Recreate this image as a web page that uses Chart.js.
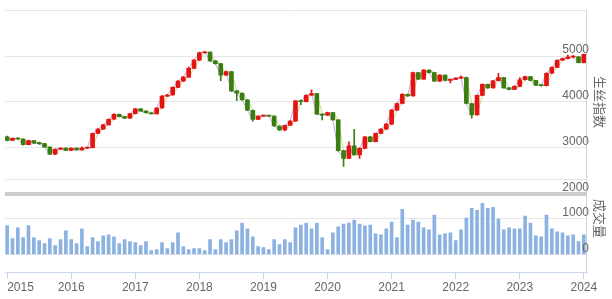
<!DOCTYPE html>
<html lang="zh">
<head>
    <meta charset="UTF-8">
    <title>生丝指数</title>
    <script src="https://cdn.jsdelivr.net/npm/chart.js"></script>
    <style>
        body {
            margin: 0;
            padding: 0;
            background-color: #ffffff;
        }

        .chart-box {
            position: relative;
            width: 612px;
            height: 299px;
        }
    </style>
</head>
<body>
    <div class="chart-box">
        <canvas id="silkChart"></canvas>
    </div>

    <script>
        // monthly data, Jan 2015 .. Jan 2024
        const yearLabels = ['2015', '2016', '2017', '2018', '2019', '2020', '2021', '2022', '2023', '2024'];
        const priceTicks = [2000, 3000, 4000, 5000];
        const volumeTicks = [0, 1000];
        const priceTitle = '生丝指数';
        const volumeTitle = '成交量';

        const opens = [
            3240, 3160, 3207, 3190, 3064, 3157, 3100, 3090, 3014, 2857,
            2967, 2990, 2940, 2990, 2950, 2990, 3000, 3314, 3407, 3500,
            3621, 3729, 3679, 3643, 3743, 3850, 3800, 3762, 3740, 3866,
            4125, 4150, 4316, 4452, 4540, 4732, 4912, 5071, 5086, 4893,
            4834, 4583, 4660, 4239, 4189, 4045, 3817, 3615, 3688, 3701,
            3690, 3473, 3387, 3486, 3580, 4022, 4005, 4145, 4181, 3732,
            3710, 3768, 3609, 2935, 2768, 3043, 2841, 2986, 3239, 3130,
            3312, 3406, 3514, 3819, 3964, 4167, 4130, 4638, 4493, 4696,
            4638, 4452, 4585, 4468, 4490, 4518, 4532, 3965, 3716, 4142,
            4383, 4305, 4461, 4532, 4305, 4270, 4340, 4482, 4553, 4468,
            4362, 4355, 4624, 4752, 4908, 4943, 4979, 4985, 4858
        ];
        const closes = [
            3160, 3207, 3190, 3064, 3157, 3100, 3090, 3014, 2857, 2967,
            2990, 2940, 2990, 2950, 2990, 3000, 3314, 3407, 3500, 3621,
            3729, 3679, 3643, 3743, 3850, 3800, 3762, 3740, 3866, 4125,
            4150, 4316, 4452, 4540, 4732, 4912, 5071, 5086, 4893, 4834,
            4583, 4660, 4239, 4189, 4045, 3817, 3615, 3688, 3701, 3690,
            3473, 3387, 3486, 3580, 4022, 4005, 4145, 4181, 3732, 3710,
            3768, 3609, 2935, 2768, 3043, 2841, 2986, 3239, 3130, 3312,
            3406, 3514, 3819, 3964, 4167, 4130, 4638, 4493, 4696, 4638,
            4452, 4585, 4468, 4490, 4518, 4532, 3965, 3716, 4142, 4383,
            4305, 4461, 4532, 4305, 4270, 4340, 4482, 4553, 4468, 4362,
            4355, 4624, 4752, 4908, 4943, 4979, 4985, 4858, 5035
        ];
        const highs = [
            3255, 3215, 3220, 3195, 3165, 3160, 3125, 3095, 3020, 2975,
            3000, 2995, 2995, 2995, 3020, 3010, 3320, 3420, 3510, 3630,
            3745, 3735, 3685, 3750, 3860, 3855, 3805, 3765, 3875, 4135,
            4165, 4330, 4465, 4560, 4760, 4925, 5085, 5095, 5090, 4900,
            4840, 4670, 4665, 4245, 4195, 4050, 3820, 3695, 3712, 3708,
            3695, 3480, 3495, 3590, 4030, 4045, 4155, 4261, 4185, 3738,
            3775, 3772, 3615, 2940, 3130, 3400, 2995, 3245, 3245, 3320,
            3415, 3525, 3830, 3975, 4180, 4172, 4650, 4645, 4705, 4700,
            4645, 4595, 4590, 4500, 4525, 4567, 4540, 3970, 4150, 4395,
            4390, 4470, 4624, 4538, 4310, 4350, 4530, 4565, 4558, 4472,
            4370, 4635, 4762, 4920, 4955, 5020, 5010, 4990, 5045
        ];
        const lows = [
            3150, 3155, 3180, 3055, 3060, 3095, 3070, 3005, 2850, 2850,
            2960, 2935, 2935, 2945, 2945, 2985, 2995, 3310, 3400, 3495,
            3615, 3670, 3635, 3640, 3740, 3795, 3755, 3735, 3735, 3860,
            4120, 4145, 4310, 4445, 4535, 4725, 4905, 5065, 4885, 4825,
            4462, 4575, 4230, 4024, 4035, 3810, 3580, 3610, 3682, 3684,
            3465, 3380, 3365, 3480, 3575, 3940, 4000, 4140, 3725, 3609,
            3705, 3600, 2925, 2592, 2760, 2835, 2768, 2980, 3125, 3125,
            3305, 3400, 3510, 3812, 3958, 4120, 4125, 4485, 4488, 4630,
            4445, 4445, 4460, 4411, 4485, 4512, 3958, 3645, 3710, 4135,
            4295, 4300, 4455, 4298, 4262, 4265, 4335, 4475, 4460, 4355,
            4345, 4350, 4618, 4745, 4900, 4938, 4960, 4850, 4850
        ];
        const volumes = [
            800, 436, 736, 464, 800, 464, 382, 300, 436, 245,
            409, 655, 409, 300, 709, 218, 464, 355, 518, 545,
            491, 300, 409, 355, 327, 245, 355, 109, 136, 327,
            164, 327, 600, 218, 136, 164, 164, 109, 409, 136,
            409, 327, 409, 655, 873, 709, 491, 218, 191, 136,
            409, 273, 409, 327, 736, 818, 873, 709, 873, 464,
            136, 600, 764, 845, 873, 955, 845, 791, 818, 573,
            545, 709, 900, 464, 1255, 818, 955, 900, 736, 682,
            1091, 545, 573, 600, 382, 682, 1009, 1282, 1227, 1418,
            1282, 1309, 982, 682, 736, 709, 709, 1064, 873, 518,
            491, 1091, 709, 627, 600, 518, 545, 355, 545
        ];

        const upColor = '#e61410';
        const downColor = '#3a7d10';
        const tickFont = { family: "'Liberation Sans', Arial, sans-serif", size: 12 };
        const candleColor = (ctx) => closes[ctx.dataIndex] >= opens[ctx.dataIndex] ? upColor : downColor;

        const sideTitles = {
            id: 'sideTitles',
            afterDraw(chart) {
                const { ctx, chartArea, scales } = chart;
                const items = [
                    { text: priceTitle, y: scales.yPrice.getPixelForValue(4000) },
                    { text: volumeTitle, y: scales.yVol.getPixelForValue(1000) }
                ];
                ctx.save();
                ctx.font = "13px 'Noto Sans CJK SC'";
                ctx.fillStyle = '#666666';
                ctx.textAlign = 'center';
                ctx.textBaseline = 'middle';
                items.forEach(item => {
                    ctx.save();
                    ctx.translate(chartArea.right + 14, item.y);
                    ctx.rotate(Math.PI / 2);
                    ctx.fillText(item.text, 0, 0);
                    ctx.restore();
                });
                ctx.restore();
            }
        };

        const ctx = document.getElementById('silkChart').getContext('2d');
        new Chart(ctx, {
            data: {
                datasets: [
                    {
                        type: 'bar',
                        yAxisID: 'yPrice',
                        data: opens.map((o, i) => ({ x: i, y: [o, closes[i]] })),
                        backgroundColor: candleColor,
                        barThickness: 4,
                        minBarLength: 1,
                        grouped: false,
                        order: 0
                    },
                    {
                        type: 'bar',
                        yAxisID: 'yPrice',
                        data: lows.map((l, i) => ({ x: i, y: [l, highs[i]] })),
                        backgroundColor: candleColor,
                        barThickness: 1,
                        grouped: false,
                        order: 1
                    },
                    {
                        type: 'line',
                        yAxisID: 'yPrice',
                        data: closes.map((c, i) => ({ x: i, y: c })),
                        borderColor: '#c3a6e6',
                        borderWidth: 1,
                        pointRadius: 0,
                        order: 2
                    },
                    {
                        type: 'line',
                        yAxisID: 'yPrice',
                        data: opens.map((o, i) => ({ x: i, y: o })),
                        borderColor: '#c4dc8a',
                        borderWidth: 1,
                        pointRadius: 0,
                        order: 3
                    },
                    {
                        type: 'bar',
                        yAxisID: 'yVol',
                        data: volumes.map((v, i) => ({ x: i, y: v })),
                        backgroundColor: '#8cb2e2',
                        barThickness: 3,
                        grouped: false,
                        order: 4
                    }
                ]
            },
            options: {
                responsive: true,
                maintainAspectRatio: false,
                animation: false,
                layout: {
                    padding: { left: 5, top: 5, right: 26, bottom: 0 }
                },
                plugins: {
                    legend: { display: false },
                    tooltip: { enabled: false }
                },
                scales: {
                    x: {
                        type: 'linear',
                        offset: false,
                        min: -0.4,
                        max: 108.4,
                        afterBuildTicks: (s) => {
                            s.ticks = yearLabels.map((_, i) => ({ value: i * 12 })).concat([{ value: 108.4 }]);
                        },
                        afterFit: (s) => {
                            s.height = 27;
                            s.paddingLeft = 0;
                            s.paddingRight = 0;
                        },
                        ticks: {
                            autoSkip: false,
                            maxRotation: 0,
                            align: 'inner',
                            padding: 1,
                            color: '#666666',
                            font: tickFont,
                            callback: (value) => yearLabels[value / 12] || ''
                        },
                        grid: {
                            offset: false,
                            drawOnChartArea: false,
                            tickLength: 7,
                            tickColor: (c) => c.index === yearLabels.length ? 'rgba(0,0,0,0)' : '#ccd6eb'
                        },
                        border: { color: '#ccd6eb' }
                    },
                    yPrice: {
                        position: 'right',
                        min: 289,
                        max: 6000,
                        afterBuildTicks: (s) => {
                            s.ticks = [2000, 2300, 3000, 4000, 5000, 6000].map(v => ({ value: v }));
                        },
                        afterFit: (s) => { s.width = 0; },
                        ticks: {
                            z: 1,
                            mirror: true,
                            padding: 3,
                            labelOffset: -6,
                            color: '#666666',
                            font: tickFont,
                            callback: (value) => priceTicks.includes(value) ? String(value) : ''
                        },
                        grid: {
                            drawTicks: false,
                            color: (c) => c.tick && c.tick.value === 2000 ? '#cccccc' : '#e6e6e6',
                            lineWidth: (c) => c.tick && c.tick.value === 2000 ? 4 : 1
                        },
                        border: { color: '#ccd6eb' }
                    },
                    yVol: {
                        position: 'right',
                        min: -490,
                        max: 6790,
                        afterBuildTicks: (s) => {
                            s.ticks = volumeTicks.map(v => ({ value: v }));
                        },
                        afterFit: (s) => { s.width = 0; },
                        ticks: {
                            z: 1,
                            mirror: true,
                            padding: 3,
                            labelOffset: -6,
                            color: '#666666',
                            font: tickFont,
                            callback: (value) => String(value)
                        },
                        grid: {
                            drawTicks: false,
                            color: '#e6e6e6'
                        },
                        border: { display: false }
                    }
                }
            },
            plugins: [sideTitles]
        });
    </script>
</body>
</html>
